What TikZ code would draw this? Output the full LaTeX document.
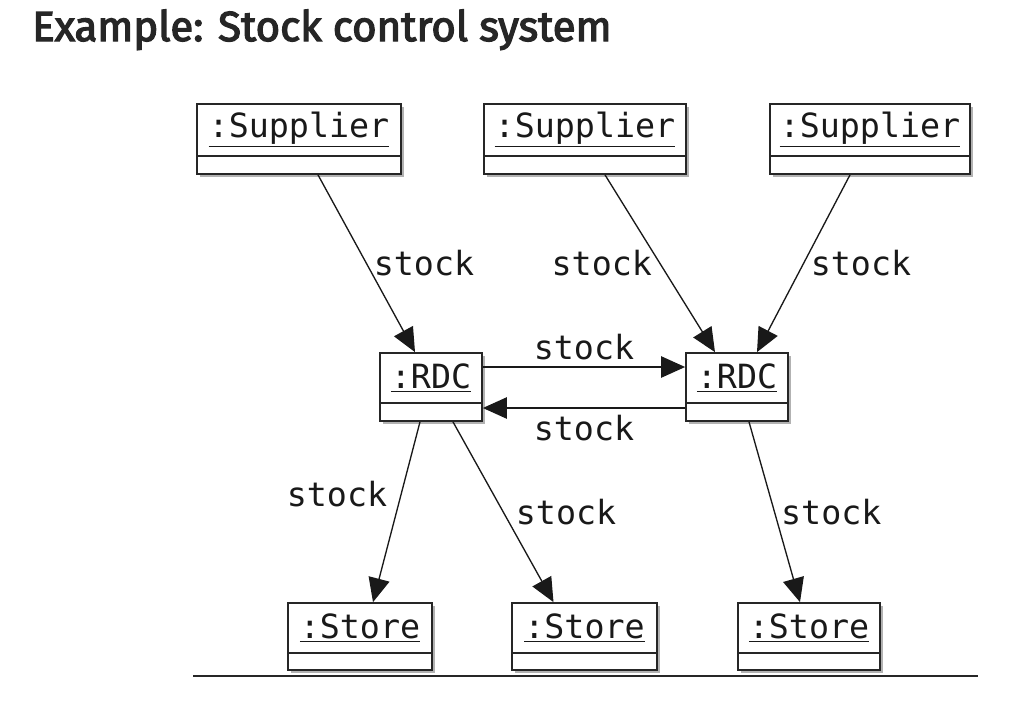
\documentclass[tikz,border=0pt]{standalone}
\usepackage{fontspec}
\setmainfont{Fira Sans}
\newfontfamily\titlef{Fira Sans}[FakeBold=3]
\newfontfamily\monof{DejaVu Sans Mono}
\usetikzlibrary{arrows.meta,calc}
\tikzset{
  boxline/.style={line width=1.3pt, draw=black!85},
  umlobj/.style={boxline, fill=white, inner sep=0pt, rectangle},
  lab/.style={font=\monof\fontsize{25}{28}\selectfont, inner sep=0pt, text=black!90},
  arr/.style={line width=1pt, draw=black!90, -{Triangle[length=18pt,width=16pt]}},
  shadowc/.style={fill=black!30}
}
\newcommand\umlbox[7]{%
  \fill[shadowc] (#2+3,#3+3) rectangle (#4+3,#5+3);
  \node[umlobj, minimum width={(#4-#2)*0.75pt}, minimum height={(#5-#3)*0.75pt}] (#1) at ({(#2+#4)/2},{(#3+#5)/2}) {};
  \draw[boxline] (#2,#6) -- (#4,#6);
  \node[lab] (#1t) at ({(#2+#4)/2},{(#3+#6)/2}) {\underline{#7}};
}
\begin{document}
\begin{tikzpicture}[x=0.75pt,y=-0.75pt]
\useasboundingbox (0,0) rectangle (1032,701);
\node[anchor=base west, inner sep=0pt, font=\titlef\fontsize{31.5}{34}\selectfont, text=black!85] (title) at (32,41) {Example: Stock control system};
\umlbox{s1}{197}{104}{401}{174}{156}{:Supplier}
\umlbox{s2}{484}{104}{686}{174}{156}{:Supplier}
\umlbox{s3}{770}{104}{970}{174}{156}{:Supplier}
\umlbox{r1}{380}{353}{482}{421}{403}{:RDC}
\umlbox{r2}{686}{353}{788}{421}{403}{:RDC}
\umlbox{st1}{288}{603}{432}{670}{653}{:Store}
\umlbox{st2}{512}{603}{657}{670}{653}{:Store}
\umlbox{st3}{738}{603}{880}{670}{653}{:Store}
\draw[arr] ($(s1.south)+(19,0)$) -- node[lab, right, pos=0.5, xshift=5pt] (l1) {stock} ($(r1.north)+(-16,0)$);
\draw[arr] ($(s2.south)+(20,0)$) -- node[lab, left, pos=0.5, xshift=-5.5pt] (l2) {stock} ($(r2.north)+(-22,0)$);
\draw[arr] ($(s3.south)+(-20,0)$) -- node[lab, right, pos=0.5, xshift=5pt] (l3) {stock} ($(r2.north)+(20,0)$);
\draw[arr] ($(r1.east)+(0,-20)$) -- node[lab, above, yshift=5pt] (l4) {stock} ($(r2.west)+(0,-20)$);
\draw[arr] ($(r2.west)+(0,21)$) -- node[lab, below, yshift=-5pt] (l5) {stock} ($(r1.east)+(0,21)$);
\draw[arr] ($(r1.south)+(-11,0)$) -- node[lab, left, pos=0.4, xshift=-10pt] (l6) {stock} ($(st1.north)+(13,0)$);
\draw[arr] ($(r1.south)+(22,0)$) -- node[lab, right, pos=0.5, xshift=9pt] (l7) {stock} ($(st2.north)+(-31,0)$);
\draw[arr] ($(r2.south)+(12,0)$) -- node[lab, right, pos=0.5, xshift=4.5pt] (l8) {stock} ($(st3.north)+(-9,0)$);
\coordinate (bl1) at (193,676);
\coordinate (bl2) at (978,676);
\draw[line width=1pt, black!85] (bl1) -- (bl2);
\end{tikzpicture}
\end{document}
